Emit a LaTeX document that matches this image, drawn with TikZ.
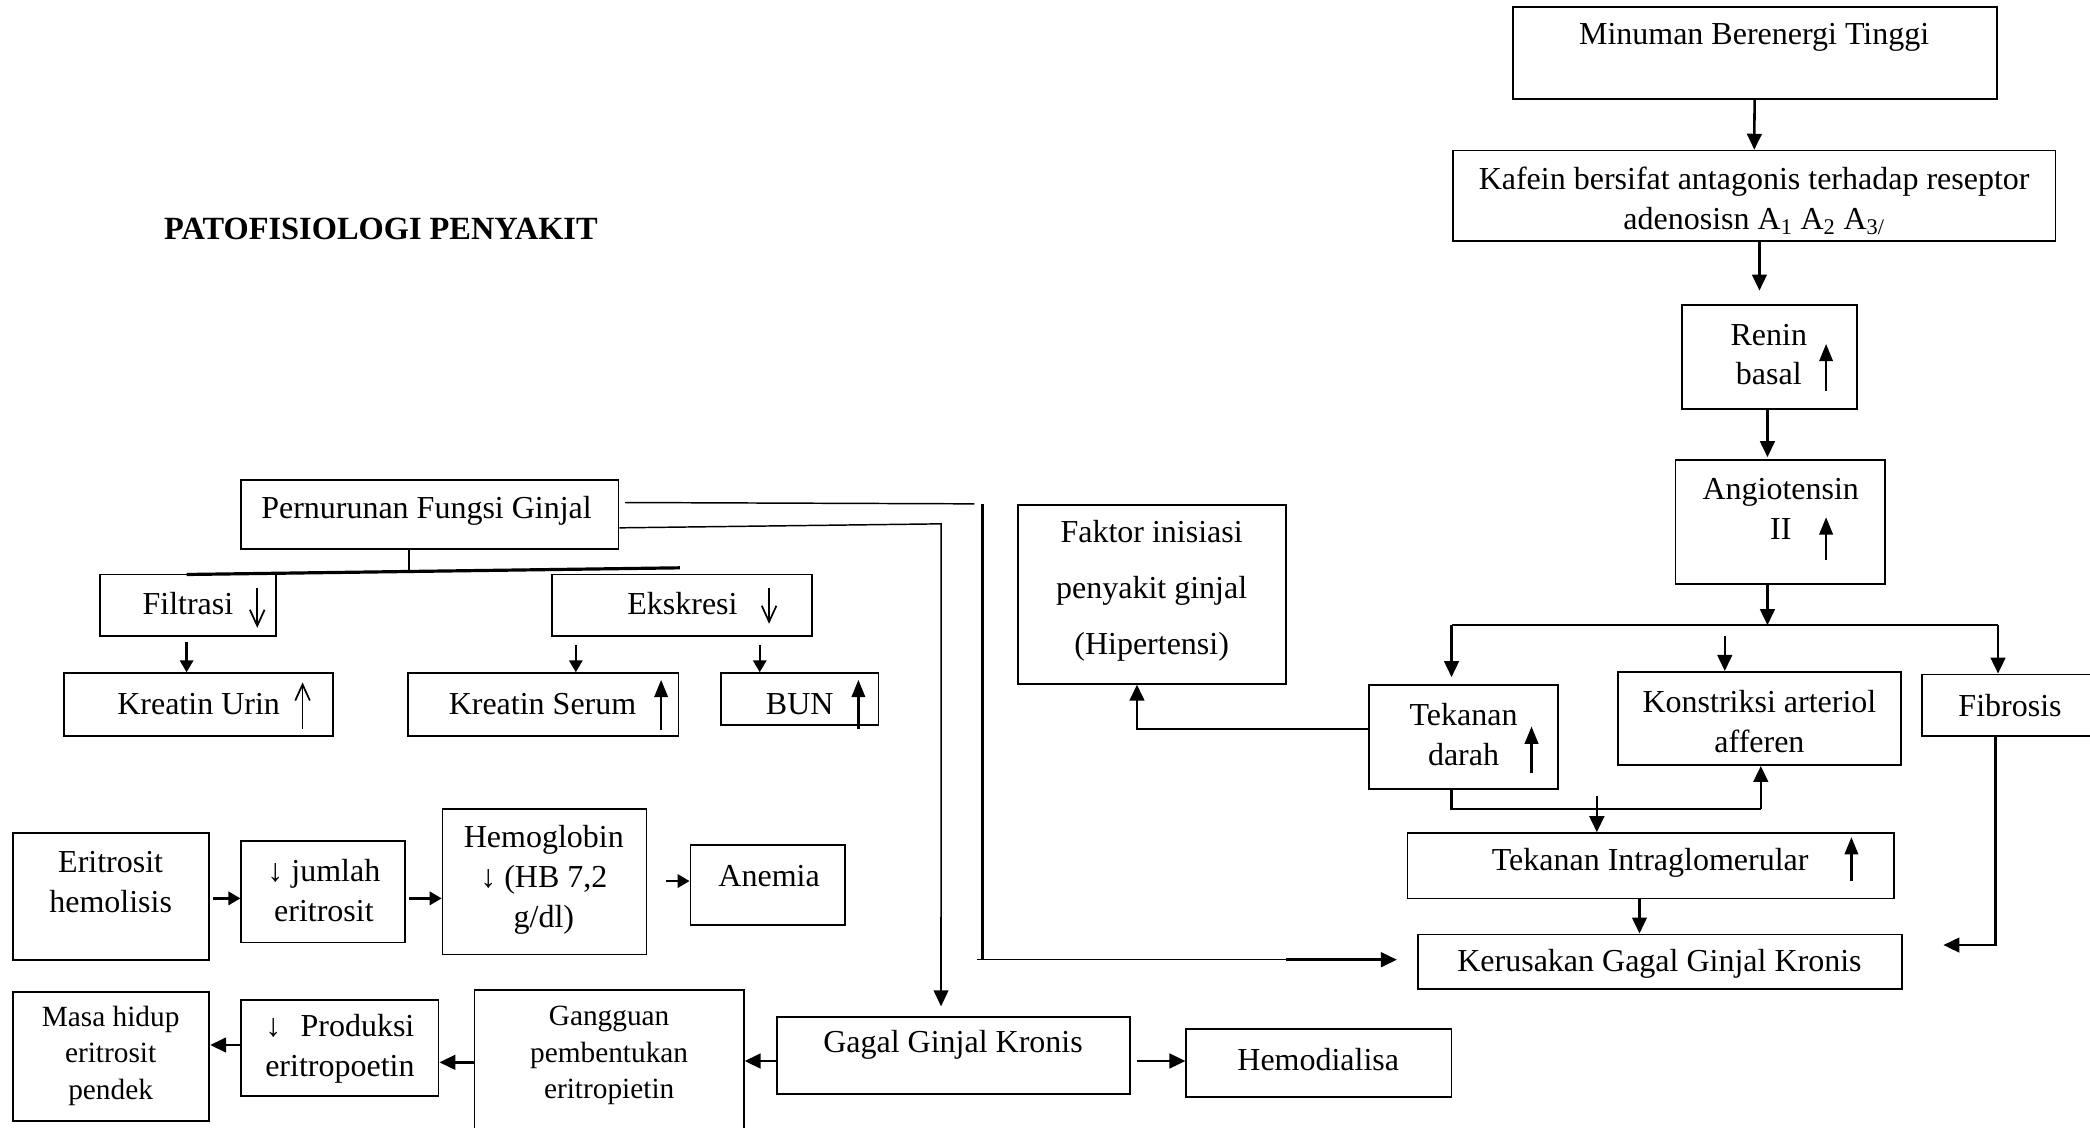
\documentclass[tikz,border=0pt]{standalone}
\usepackage{fontspec}
\setmainfont{Liberation Serif}
\usetikzlibrary{arrows.meta,fit,calc}
\newcommand\mkbox[5]{%
  \coordinate (#1-a) at (#2,#3);
  \coordinate (#1-b) at (#4,#5);
  \node[box, fit=(#1-a)(#1-b)] (#1) {};}
\begin{document}
\begin{tikzpicture}[x=1pt,y=-1pt,
  box/.style={draw, line width=1.3pt, inner sep=0pt},
  txt/.style={align=center, inner sep=0pt, font=\fontsize{24}{30}\selectfont},
  stxt/.style={align=center, inner sep=0pt, font=\fontsize{22}{27.5}\selectfont},
  ftxt/.style={align=center, inner sep=0pt, font=\fontsize{24}{42}\selectfont},
  arr/.style={line width=1.9pt, -{Triangle[length=12pt,width=11pt]}},
  sarr/.style={line width=1.9pt, -{Triangle[length=9pt,width=10pt]}},
  ln/.style={line width=1.9pt},
  hair/.style={line width=1.1pt},
  uparr/.style={line width=2pt, -{Triangle[length=13pt,width=10pt]}},
  oarr/.style={line width=1.3pt, -{Straight Barb[length=12pt,width=11pt]}},
]
\useasboundingbox (0,0) rectangle (1568,846);
\fill[white] (0,0) rectangle (1568,846);

% ---------- boxes ----------
\mkbox{min}{1135}{5}{1498}{74}
\mkbox{kaf}{1090}{113}{1542}{181}
\mkbox{ren}{1262}{229}{1393}{307}
\mkbox{ang}{1257}{345}{1414}{438}
\mkbox{tek}{1027}{514}{1169}{592}
\mkbox{kon}{1214}{504}{1426}{574}
\mkbox{fib}{1442}{506}{1580}{552}
\mkbox{fak}{764}{379}{965}{513}
\mkbox{itg}{1056}{625}{1421}{674}
\mkbox{ker}{1064}{701}{1427}{742}
\mkbox{per}{181}{360}{464}{412}
\mkbox{fil}{75}{431}{207}{477}
\mkbox{eks}{414}{431}{609}{477}
\mkbox{kur}{48}{505}{250}{552}
\mkbox{kse}{306}{505}{509}{552}
\mkbox{bun}{541}{505}{659}{544}
\mkbox{eri}{10}{625}{157}{720}
\mkbox{jml}{181}{631}{304}{707}
\mkbox{hem}{332}{607}{485}{716}
\mkbox{ane}{518}{634}{634}{694}
\mkbox{ggk}{583}{763}{848}{821}
\mkbox{hdl}{890}{772}{1089}{823}
\mkbox{gpe}{356}{743}{558}{852}
\mkbox{pro}{181}{750}{329}{822}
\mkbox{mas}{10}{744}{157}{841}

% ---------- texts ----------
\node[txt, font=\bfseries\fontsize{24.3}{30}\selectfont, anchor=west] (title) at (123,172) {PATOFISIOLOGI PENYAKIT};
\node[txt] (min-t) at (1316,28) {Minuman Berenergi Tinggi};
\node[txt] (kaf-t) at (1316,151) {Kafein bersifat antagonis terhadap reseptor\\adenosisn A\textsubscript{1} A\textsubscript{2} A\textsubscript{3/}};
\node[txt] (ren-t) at (1327,266) {Renin\\basal};
\node[txt] (ang-t) at (1336,382) {Angiotensin\\II};
\node[txt] (tek-t) at (1098,551) {Tekanan\\darah};
\node[txt] (kon-t) at (1320,541) {Konstriksi arteriol\\afferen};
\node[txt] (fib-t) at (1508,529) {Fibrosis};
\node[ftxt] (fak-t) at (864,443) {Faktor inisiasi\\penyakit ginjal\\(Hipertensi)};
\node[txt] (itg-t) at (1238,647) {Tekanan Intraglomerular};
\node[txt] (ker-t) at (1245,723) {Kerusakan Gagal Ginjal Kronis};
\node[txt] (per-t) at (320,383) {Pernurunan Fungsi Ginjal};
\node[txt] (fil-t) at (141,453) {Filtrasi};
\node[txt] (eks-t) at (512,453) {Ekskresi};
\node[txt] (kur-t) at (149,528) {Kreatin Urin};
\node[txt] (kse-t) at (407,528) {Kreatin Serum};
\node[txt] (bun-t) at (600,528) {BUN};
\node[txt] (eri-t) at (83,662) {Eritrosit\\hemolisis};
\node[txt] (jml-t) at (243,668) {↓ jumlah\\eritrosit};
\node[txt] (hem-t) at (408,660) {Hemoglobin\\↓ (HB 7,2\\g/dl)};
\node[txt] (ane-t) at (577,657) {Anemia};
\node[txt] (ggk-t) at (715,784) {Gagal Ginjal Kronis};
\node[txt] (hdl-t) at (989,795) {Hemodialisa};
\node[stxt] (gpe-t) at (457,792) {Gangguan\\pembentukan\\eritropietin};
\node[txt] (pro-t) at (255,787) {↓\hspace{0.6em}Produksi\\eritropoetin};
\node[stxt] (mas-t) at (83,792) {Masa hidup\\eritrosit\\pendek};

% ---------- in-box trend arrows ----------
\draw[uparr] (1370,293) -- (1370,258);
\draw[uparr] (1370,420) -- (1370,388);
\draw[uparr] (1149,580) -- (1149,545);
\draw[uparr] (1389,661) -- (1389,628);
\draw[uparr] (496,548) -- (496,510);
\draw[uparr] (644,547) -- (644,510);
\draw[oarr] (227,547) -- (227,512);
\draw[oarr] (193,441) -- (193,471);
\draw[oarr] (577,441) -- (577,468);

% ---------- right chain ----------
\coordinate (c2) at (1320,218);
\coordinate (c3) at (1326,343);
\coordinate (j1) at (1326,469);
\coordinate (hl) at (1089,469);
\coordinate (hr) at (1499,469);
\coordinate (hm) at (1294,477);
\coordinate (tt) at (1089,508);
\draw[arr] (min) -- (kaf);
\draw[arr] (kaf.south -| c2) -- (c2);
\draw[arr] (ren.south -| c3) -- (c3);
\draw[arr] (ang.south -| j1) -- (j1);
\draw[ln] (hl) -- (hr);
\draw[arr] (hl) -- (tt);
\draw[arr] (hm) -- (hm |- kon.north);
\draw[arr] (hr) -- (hr |- fib.north);

\coordinate (fk) at (853,547);
\draw[arr] (tek.west |- fk) -- (fk) -- (fk |- fak.south);

\coordinate (b1) at (1089,607);
\coordinate (b2) at (1321,607);
\coordinate (b3) at (1198,597);
\draw[ln] (tek.south -| b1) -- (b1) -- (b2);
\draw[arr] (b2) -- (b2 |- kon.south);
\draw[arr] (b3) -- (b3 |- itg.north);

\coordinate (k1) at (1230,0);
\draw[arr] (itg.south -| k1) -- (ker.north -| k1);

\coordinate (f1) at (1497,709);
\coordinate (f2) at (1458,709);
\draw[arr] (fib.south -| f1) -- (f1) -- (f2);

% ---------- Pernurunan links ----------
\coordinate (p1) at (469,377);
\coordinate (p2) at (731,378);
\coordinate (p3) at (737,378);
\coordinate (p4) at (737,720);
\coordinate (p5) at (733,720);
\coordinate (p6) at (965,720);
\coordinate (p7) at (1048,720);
\draw[hair] (p1) -- (p2);
\draw[ln] (p3) -- (p4);
\draw[hair] (p5) -- (p6);
\draw[arr] (p6) -- (p7);

\coordinate (q1) at (464,396);
\coordinate (q2) at (706,393);
\coordinate (q3) at (706,688);
\coordinate (q4) at (706,716);
\coordinate (q5) at (706,755);
\draw[hair] (per.east |- q1) -- (q2) -- (q3);
\draw[ln] (q3) -- (q4);
\draw[line width=1.4pt, -{Triangle[length=12pt,width=11pt]}] (q4) -- (q5);

% ---------- tree ----------
\coordinate (t0) at (307,428);
\coordinate (tl) at (140,431);
\coordinate (tr) at (510,426);
\draw[ln] (per.south -| t0) -- (t0);
\draw[line width=2.4pt] (tl) -- (tr);
\coordinate (s1) at (140,482);
\coordinate (s2) at (432,484);
\coordinate (s3) at (570,484);
\draw[sarr] (s1) -- (s1 |- kur.north);
\draw[sarr] (s2) -- (s2 |- kse.north);
\draw[sarr] (s3) -- (s3 |- bun.north);

% ---------- bottom chains ----------
\coordinate (g1) at (853,796);
\coordinate (g2) at (0,797);
\draw[arr] (g1) -- (g1 -| hdl.west);
\draw[arr] (ggk.west |- g1) -- (g1 -| gpe.east);
\draw[arr] (gpe.west |- g2) -- (g2 -| pro.east);
\coordinate (m1) at (0,784);
\draw[arr] (pro.west |- m1) -- (m1 -| mas.east);

\coordinate (e1) at (160,674);
\coordinate (e2) at (307,674);
\coordinate (e3) at (500,661);
\draw[sarr] (e1) -- (e1 -| jml.west);
\draw[sarr] (e2) -- (e2 -| hem.west);
\draw[sarr] (e3) -- (e3 -| ane.west);
\end{tikzpicture}
\end{document}
